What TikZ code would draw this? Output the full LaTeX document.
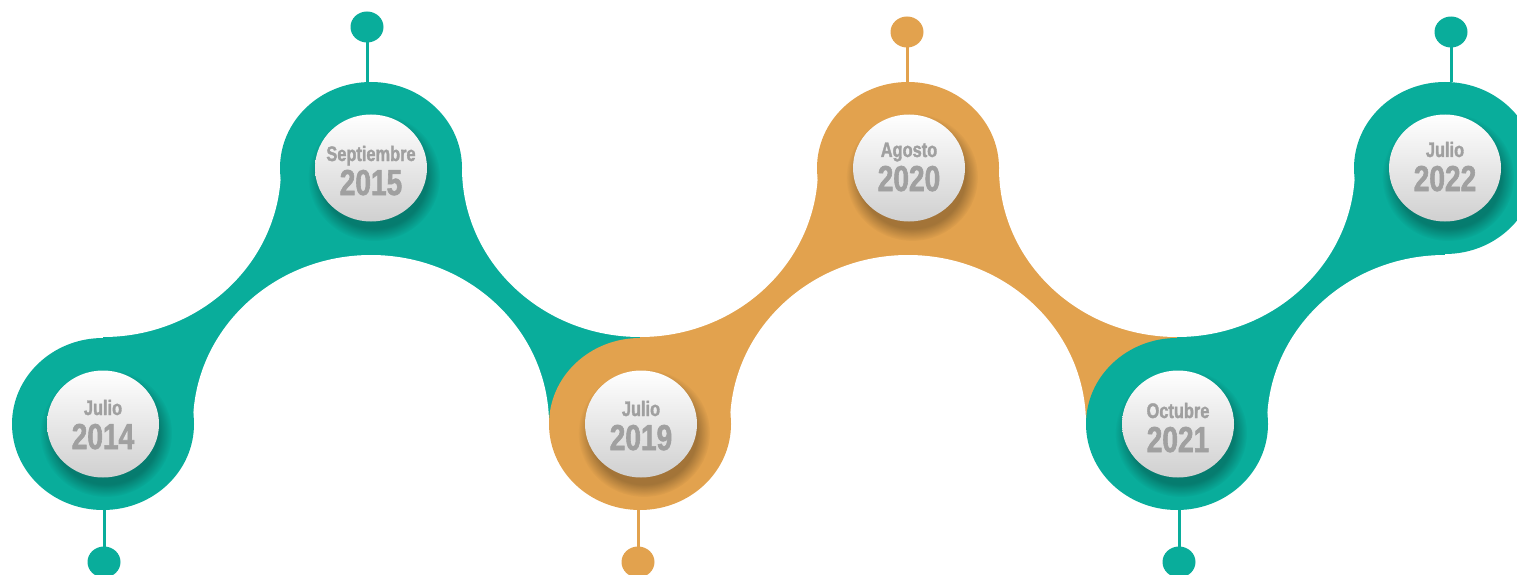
\documentclass[tikz,border=0pt]{standalone}
\usepackage{fontspec}
\newfontfamily\datefont[FakeStretch=0.78,FakeBold=1.6]{Liberation Sans}
\usetikzlibrary{fadings,shapes.geometric}
\definecolor{tealc}{RGB}{9,173,155}
\definecolor{orangec}{RGB}{226,162,78}
\definecolor{txtgray}{RGB}{160,160,160}
\definecolor{diskgray}{RGB}{208,208,208}
\begin{document}
\begin{tikzpicture}[x=1pt,y=-1pt,
  lobe/.style={ellipse, fill=#1, minimum width=182pt, minimum height=172pt, inner sep=0pt, outer sep=0pt},
  pin/.style={ellipse, fill=#1, minimum width=33pt, minimum height=31pt, inner sep=0pt, outer sep=0pt},
  stem/.style={draw=#1, line width=3pt},
  hole/.style={fill=white},
  disk/.style={ellipse, top color=white, bottom color=diskgray, minimum width=112pt, minimum height=107pt, inner sep=0pt},
  dshadow/.style={fill=black, opacity=0.28, path fading=circle with fuzzy edge 20 percent},
  month/.style={anchor=base, text=txtgray, font=\datefont\bfseries\fontsize{21}{21}\selectfont, inner sep=0pt},
  year/.style={anchor=base, text=txtgray, font=\datefont\bfseries\fontsize{36}{36}\selectfont, inner sep=0pt}
]
\useasboundingbox (0,0) rectangle (1517,575);

% band segments
\fill[tealc] (103,168) rectangle (640,424);
\fill[orangec] (640,168) rectangle (1177,424);
\fill[tealc] (1177,168) rectangle (1445,424);

% white holes
\foreach \x in {103,640,1177} \fill[hole] (\x,168) ellipse [x radius=178pt, y radius=169pt];
\foreach \x in {371,908,1445} \fill[hole] (\x,424) ellipse [x radius=178pt, y radius=169pt];

% pins
\node[pin=tealc] (p1) at (104,562) {};
\node[pin=tealc] (p2) at (367,27) {};
\node[pin=orangec] (p3) at (638,562) {};
\node[pin=orangec] (p4) at (907,32) {};
\node[pin=tealc] (p5) at (1179,562) {};
\node[pin=tealc] (p6) at (1451,32) {};

% lobes
\node[lobe=tealc] (l1) at (103,424) {};
\node[lobe=tealc] (l2) at (371,168) {};
\node[lobe=orangec] (l3) at (640,424) {};
\node[lobe=orangec] (l4) at (908,168) {};
\node[lobe=tealc] (l5) at (1177,424) {};
\node[lobe=tealc] (l6) at (1445,168) {};

% stems
\draw[stem=tealc] (p1.center) -- (p1 |- l1.south);
\draw[stem=tealc] (p2.center) -- (p2 |- l2.north);
\draw[stem=orangec] (p3.center) -- (p3 |- l3.south);
\draw[stem=orangec] (p4.center) -- (p4 |- l4.north);
\draw[stem=tealc] (p5.center) -- (p5 |- l5.south);
\draw[stem=tealc] (p6.center) -- (p6 |- l6.north);

% disk shadows
\foreach \x/\y in {103/424,371/168,641/424,909/168,1178/424,1445/168}
  \fill[dshadow] (\x+3,\y+9) ellipse [x radius=66pt, y radius=64pt];

% disks
\node[disk] (d1) at (103,424) {};
\node[disk] (d2) at (371,168) {};
\node[disk] (d3) at (641,424) {};
\node[disk] (d4) at (909,168) {};
\node[disk] (d5) at (1178,424) {};
\node[disk] (d6) at (1445,168) {};

% texts
\node[month] (m1) at (103,415) {Julio};
\node[year]  (y1) at (103,449) {2014};
\node[month] (m2) at (371,161) {Septiembre};
\node[year]  (y2) at (371,195) {2015};
\node[month] (m3) at (641,416) {Julio};
\node[year]  (y3) at (641,450) {2019};
\node[month] (m4) at (909,157) {Agosto};
\node[year]  (y4) at (909,191) {2020};
\node[month] (m5) at (1178,418) {Octubre};
\node[year]  (y5) at (1178,452) {2021};
\node[month] (m6) at (1445,157) {Julio};
\node[year]  (y6) at (1445,191) {2022};
\end{tikzpicture}
\end{document}
